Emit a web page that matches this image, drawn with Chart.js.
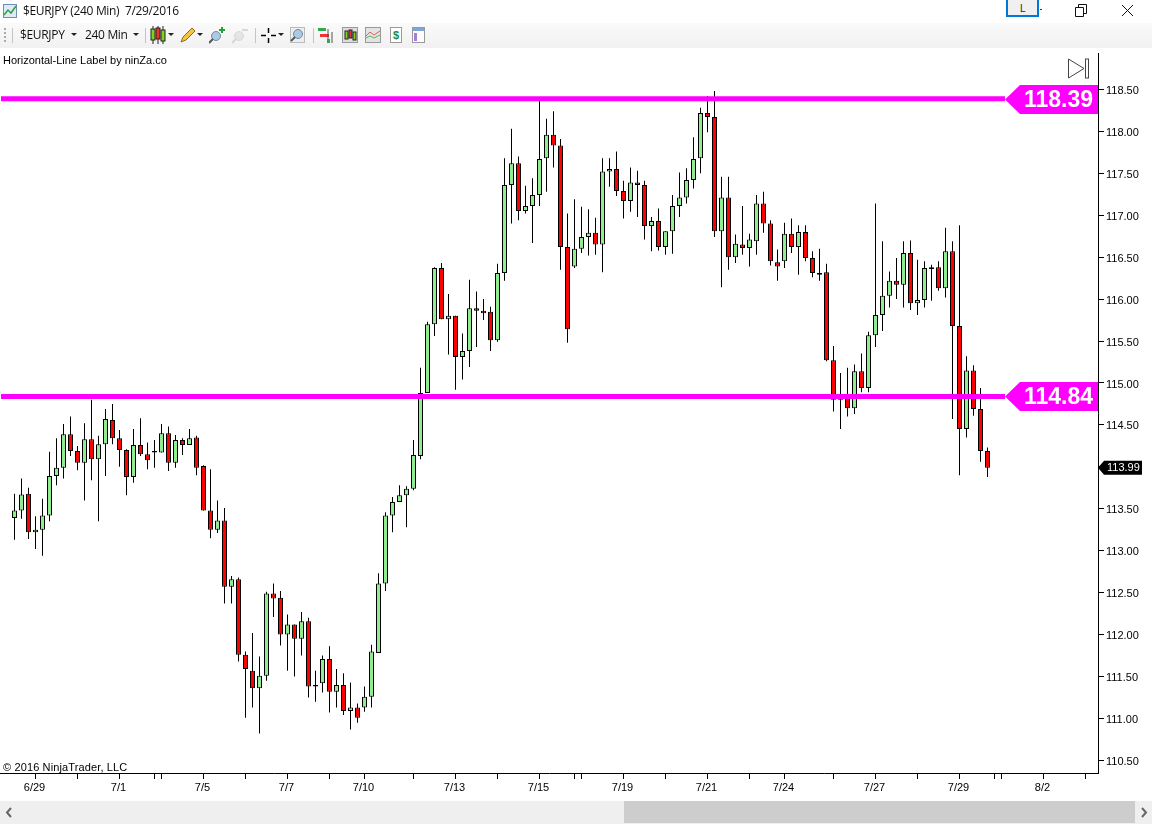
<!DOCTYPE html>
<html>
<head>
<meta charset="utf-8">
<title>$EURJPY (240 Min) 7/29/2016</title>
<script src="https://cdn.jsdelivr.net/npm/chart.js@4/dist/chart.umd.js"></script>
<style>
body { margin: 0; background: #fff; width: 1152px; height: 824px; overflow: hidden; position: relative; font-family: "Open Sans", sans-serif; }
canvas { position: absolute; left: 0; top: 0; }
.abs { position: absolute; white-space: nowrap; }
#toolbar { left: 0; top: 23px; width: 1152px; height: 25px; background: linear-gradient(#fafafa, #f1f1f1); }
.ui { font-size: 12px; line-height: 16px; color: #111; letter-spacing: -0.33px; }
.note { font-family: "Liberation Sans", Arial, sans-serif; font-size: 11px; line-height: 13px; color: #000; }
.sep { top: 28px; width: 1px; height: 15px; background: #c4c4c4; }
#scroll { left: 0; top: 801px; width: 1152px; height: 23px; background: #efefef; }
#thumb { left: 624px; top: 801px; width: 511px; height: 22px; background: #cdcdcd; }
</style>
</head>
<body>
<canvas id="myChart" width="1152" height="824" style="width:1152px;height:824px"></canvas>

<div class="abs" id="toolbar"></div>
<svg class="abs" style="left:3px;top:4px" width="14" height="14"><rect x="0.5" y="0.5" width="13" height="13" fill="#dfeaf7" stroke="#6f8fb5"/><path d="M1 11 L5 6 L8 9 L13 2" fill="none" stroke="#2f9e44" stroke-width="1.5"/></svg>
<div class="abs ui" style="left:23px;top:3px">$EURJPY (240 Min)&nbsp; 7/29/2016</div>

<div class="abs" style="left:1006px;top:-2px;width:29px;height:15px;border:2px solid #0078d7;background:#f0f0f0;text-align:center;font-size:11px;line-height:15px;color:#222">L</div>
<div class="abs" style="left:1040px;top:9px;width:2px;height:1px;background:#333"></div>
<svg class="abs" style="left:1075px;top:4px" width="14" height="14"><path d="M0.5 3.5 H8.5 V12.5 H0.5 Z M3.5 3.5 V0.5 H11.5 V9.5 H8.5" fill="none" stroke="#111"/></svg>
<svg class="abs" style="left:1121px;top:4px" width="13" height="13"><path d="M1 1 L12 12 M12 1 L1 12" stroke="#111" stroke-width="1"/></svg>

<div class="abs" style="left:4px;top:28px;width:2px;height:15px;background:repeating-linear-gradient(#aaa 0 2px, transparent 2px 4px)"></div>
<div class="abs sep" style="left:12px"></div>
<div class="abs ui" style="left:20px;top:27px">$EURJPY</div>
<svg class="abs" style="left:71px;top:33px" width="6" height="4"><path d="M0 0 H6 L3 3 Z" fill="#222"/></svg>
<div class="abs ui" style="left:85px;top:27px">240 Min</div>
<svg class="abs" style="left:133px;top:33px" width="6" height="4"><path d="M0 0 H6 L3 3 Z" fill="#222"/></svg>
<div class="abs sep" style="left:145px"></div>
<svg class="abs" style="left:150px;top:26px" width="16" height="18"><path d="M3 0 V18 M8 0 V18 M13 0 V18" stroke="#222"/><rect x="1" y="3" width="4" height="11" fill="#7ed321" stroke="#222"/><rect x="6" y="2" width="4" height="11" fill="#e33" stroke="#222"/><rect x="11" y="4" width="4" height="11" fill="#7ed321" stroke="#222"/></svg>
<svg class="abs" style="left:168px;top:33px" width="6" height="4"><path d="M0 0 H6 L3 3 Z" fill="#222"/></svg>
<svg class="abs" style="left:180px;top:27px" width="16" height="16"><path d="M1 15 L3 10 L12 1 L15 4 L6 13 Z" fill="#f5c542" stroke="#8a6d1a"/></svg>
<svg class="abs" style="left:197px;top:33px" width="6" height="4"><path d="M0 0 H6 L3 3 Z" fill="#222"/></svg>
<svg class="abs" style="left:209px;top:27px" width="17" height="17"><circle cx="7" cy="9" r="4.5" fill="#a8cbe8" stroke="#7a8a99"/><path d="M4 12 L0 16" stroke="#555" stroke-width="2"/><path d="M13 0 V6 M10 3 H16" stroke="#22a33a" stroke-width="2"/></svg>
<svg class="abs" style="left:232px;top:27px" width="17" height="17" opacity="0.4"><circle cx="7" cy="9" r="4.5" fill="#ccc" stroke="#aaa"/><path d="M4 12 L0 16" stroke="#aaa" stroke-width="2"/><path d="M10 3 H16" stroke="#aaa" stroke-width="2"/></svg>
<div class="abs sep" style="left:255px"></div>
<svg class="abs" style="left:261px;top:28px" width="15" height="15"><path d="M7.5 0 V5 M7.5 10 V15 M0 7.5 H5 M10 7.5 H15" stroke="#000" stroke-width="1.5"/></svg>
<svg class="abs" style="left:278px;top:33px" width="6" height="4"><path d="M0 0 H6 L3 3 Z" fill="#222"/></svg>
<svg class="abs" style="left:290px;top:27px" width="15" height="16"><rect x="0.5" y="0.5" width="14" height="15" fill="#eee" stroke="#bbb"/><circle cx="8" cy="7" r="4.5" fill="#a8cbe8" stroke="#7a8a99"/><path d="M5 10 L1 14" stroke="#555" stroke-width="2"/></svg>
<div class="abs sep" style="left:313px"></div>
<svg class="abs" style="left:318px;top:27px" width="16" height="16"><rect x="0" y="1" width="8" height="3" fill="#2fa84f"/><rect x="2" y="7" width="9" height="3" fill="#e33"/><path d="M10 2 V16 M14 5 V16" stroke="#555"/><rect x="9" y="12" width="3" height="4" fill="#2fa84f"/></svg>
<svg class="abs" style="left:342px;top:27px" width="16" height="16"><rect x="0.5" y="0.5" width="15" height="15" fill="#ddd" stroke="#999"/><rect x="3" y="4" width="3" height="8" fill="#7ed321" stroke="#222"/><rect x="7" y="3" width="3" height="8" fill="#e33" stroke="#222"/><rect x="11" y="5" width="3" height="8" fill="#7ed321" stroke="#222"/></svg>
<svg class="abs" style="left:365px;top:27px" width="16" height="16"><rect x="0.5" y="0.5" width="15" height="15" fill="#e3e3e3" stroke="#999"/><path d="M1 9 L5 5 L9 8 L15 4" fill="none" stroke="#e55"/><path d="M1 11 L5 9 L9 11 L15 8" fill="none" stroke="#5b5"/></svg>
<svg class="abs" style="left:390px;top:27px" width="12" height="16"><rect x="0.5" y="0.5" width="11" height="15" fill="#fff" stroke="#999"/><text x="6" y="12" font-size="11" font-weight="bold" text-anchor="middle" fill="#1b8a3a" font-family="Liberation Sans">$</text></svg>
<svg class="abs" style="left:412px;top:27px" width="13" height="16"><rect x="0.5" y="0.5" width="12" height="15" fill="#fff" stroke="#999"/><rect x="1" y="1" width="11" height="3" fill="#7aa7d8"/><rect x="2" y="6" width="3" height="8" fill="#a77be0"/></svg>

<div class="abs note" style="left:3px;top:54px">Horizontal-Line Label by ninZa.co</div>
<div class="abs note" style="left:3px;top:761px;letter-spacing:0.13px">© 2016 NinjaTrader, LLC</div>

<svg class="abs" style="left:1067px;top:58px" width="23" height="22"><path d="M1.5 1 L17 10.5 L1.5 20 Z" fill="none" stroke="#444"/><rect x="18.5" y="1" width="3" height="19" fill="none" stroke="#444"/></svg>

<div class="abs" id="scroll"></div>
<div class="abs" id="thumb"></div>
<svg class="abs" style="left:5px;top:807px" width="8" height="11"><path d="M6 1 L2 5.5 L6 10" fill="none" stroke="#666" stroke-width="2"/></svg>
<svg class="abs" style="left:1140px;top:807px" width="8" height="11"><path d="M2 1 L6 5.5 L2 10" fill="none" stroke="#666" stroke-width="2"/></svg>

<script>
const opens = [
    113.39,113.48,113.68,113.22,113.25,113.42,113.89,113.99,114.39,114.19,
    114.05,114.33,114.09,114.27,114.56,114.34,114.20,113.88,114.26,114.15,
    114.19,114.17,114.40,114.05,114.32,114.26,114.35,114.01,113.48,113.25,
    113.36,112.57,112.66,111.76,111.57,111.36,111.51,112.49,112.44,112.00,
    112.12,111.95,112.16,111.38,111.42,111.71,111.32,111.40,111.09,111.13,
    111.13,111.26,111.78,112.61,113.42,113.58,113.66,113.74,114.13,114.88,
    115.70,116.37,115.76,115.80,115.31,115.38,115.89,115.86,115.85,115.51,
    116.31,117.36,117.62,117.05,117.11,117.24,117.68,117.96,117.83,116.62,
    116.39,116.60,116.74,116.79,116.65,117.52,117.55,117.29,117.17,117.39,
    117.36,116.87,116.93,116.62,116.81,117.11,117.21,117.42,117.68,118.22,
    118.17,116.81,117.21,116.50,116.65,116.61,116.69,117.14,116.90,116.44,
    116.45,116.78,116.62,116.80,116.49,116.31,116.32,115.27,114.80,114.85,
    114.70,115.14,114.94,115.57,115.81,116.04,116.22,116.17,116.55,115.95,
    115.99,116.38,116.38,116.13,116.57,115.68,114.45,115.15,114.69,114.19
];
const closes = [
    113.48,113.67,113.22,113.25,113.42,113.89,113.99,114.39,114.19,114.05,
    114.33,114.09,114.27,114.57,114.34,114.20,113.88,114.26,114.15,114.08,
    114.17,114.40,114.05,114.32,114.26,114.34,113.99,113.48,113.25,113.36,
    112.57,112.66,111.76,111.59,111.36,111.51,112.49,112.43,112.00,112.12,
    111.95,112.16,111.38,111.40,111.71,111.32,111.40,111.09,111.13,111.01,
    111.26,111.80,112.61,113.42,113.58,113.66,113.74,114.14,114.88,115.70,
    116.37,115.76,115.80,115.31,115.38,115.89,115.86,115.83,115.51,116.31,
    117.36,117.62,117.05,117.11,117.24,117.67,117.96,117.83,116.62,115.64,
    116.60,116.74,116.79,116.65,117.52,117.55,117.29,117.17,117.39,117.36,
    116.87,116.93,116.62,116.81,117.11,117.21,117.42,117.67,118.22,118.17,
    116.81,117.21,116.50,116.66,116.61,116.71,117.14,116.90,116.45,116.39,
    116.78,116.62,116.80,116.49,116.31,116.29,115.27,114.80,114.84,114.70,
    115.14,114.94,115.57,115.81,116.04,116.22,116.17,116.55,115.95,115.99,
    116.37,116.36,116.13,116.57,115.68,114.45,115.15,114.69,114.19,113.99
];
const highs = [
    113.68,113.86,113.75,113.41,113.62,114.18,114.34,114.51,114.60,114.25,
    114.52,114.80,114.37,114.69,114.75,114.44,114.21,114.45,114.58,114.29,
    114.32,114.51,114.48,114.38,114.34,114.45,114.37,114.02,113.97,113.60,
    113.51,112.70,112.68,111.80,112.02,111.74,112.51,112.61,112.52,112.24,
    112.12,112.27,112.20,111.57,111.75,111.86,111.59,111.54,111.43,111.18,
    111.38,111.88,112.73,113.46,113.64,113.78,113.77,114.32,115.18,115.73,
    116.38,116.43,116.06,115.80,115.59,116.23,116.09,116.00,115.91,116.42,
    117.68,118.03,117.70,117.35,117.44,118.40,118.15,118.24,117.91,117.02,
    117.19,117.10,117.07,116.97,117.68,117.68,117.76,117.41,117.57,117.53,
    117.41,116.98,117.08,116.81,117.24,117.51,117.56,117.93,118.28,118.42,
    118.48,117.46,117.46,116.77,117.11,116.78,117.24,117.28,116.94,116.59,
    116.91,116.96,116.88,116.88,116.57,116.60,116.42,115.44,115.12,115.18,
    115.22,115.35,115.61,117.14,116.69,116.33,116.49,116.69,116.70,116.47,
    116.45,116.41,116.45,116.85,116.69,116.88,115.32,115.21,114.94,114.23
];
const lows = [
    113.13,113.38,113.14,113.02,112.94,113.35,113.78,113.86,114.13,113.96,
    113.60,113.84,113.35,113.89,114.27,114.00,113.66,113.81,114.13,113.97,
    113.99,114.17,113.95,113.99,114.14,114.26,113.90,113.48,113.15,113.21,
    112.37,112.37,111.68,111.01,111.13,110.82,111.45,112.21,111.87,111.57,
    111.50,111.75,111.25,111.20,111.31,111.07,111.13,111.04,110.87,110.95,
    111.08,111.13,111.78,112.52,113.22,113.58,113.28,113.72,114.09,114.88,
    115.56,115.76,115.34,114.92,115.04,115.19,115.43,115.75,115.38,115.49,
    116.22,116.90,116.94,117.02,116.67,117.11,117.28,117.57,116.35,115.48,
    116.37,116.55,116.52,116.53,116.32,117.34,117.23,116.96,117.04,116.98,
    116.71,116.57,116.58,116.53,116.54,116.98,117.14,117.32,117.50,117.99,
    116.74,116.14,116.35,116.43,116.53,116.39,116.53,116.79,116.40,116.22,
    116.37,116.55,116.29,116.45,116.26,116.22,115.26,114.66,114.45,114.60,
    114.63,114.89,114.89,115.43,115.62,115.90,116.00,115.90,115.87,115.81,
    115.90,115.98,116.10,116.02,114.57,113.90,114.35,114.61,114.06,113.88
];

// bar numbers that carry a tick on the time axis, and the ones with a date
const timeTicks = [4,10,16,21,22,28,34,40,46,51,58,64,70,76,81,82,88,94,100,106,111,118,124,130,136,141,142,148,154];
const dateTicks = [4,16,28,40,51,64,76,88,100,111,124,136,148];
const dateLabels = ['6/29','7/1','7/5','7/7','7/10','7/13','7/15','7/19','7/21','7/24','7/27','7/29','8/2'];
const priceTicks = [110.5,111,111.5,112,112.5,113,113.5,114,114.5,115,115.5,116,116.5,117,117.5,118,118.5];

const levels = [118.39, 114.84];
const lastPrice = 113.99;

const MAGENTA = '#ff00ff';
const UP = '#90ee90';
const DOWN = '#ff0000';
const FONT = '"Liberation Sans", Arial, sans-serif';

const bars = opens.map((o, i) => i + 1);
const wickData = bars.map((b, i) => ({ x: b, y: [lows[i], highs[i]] }));
const bodyData = bars.map((b, i) => ({ x: b, y: [opens[i], closes[i]] }));
const bodyColors = bars.map((b, i) => (closes[i] >= opens[i] ? UP : DOWN));

function levelLine(value) {
    return {
        type: 'line',
        data: [{ x: -0.93, y: value }, { x: 142.5, y: value }],
        borderColor: MAGENTA,
        borderWidth: 5,
        pointRadius: 0,
        order: 1
    };
}

// the magenta price flags and the black last price tag
const priceTags = {
    id: 'priceTags',
    afterDraw(chart) {
        const ctx = chart.ctx;
        const yScale = chart.scales.y;
        const right = chart.chartArea.right;

        levels.forEach(function (value) {
            const y = Math.round(yScale.getPixelForValue(value)) + 0.5;
            ctx.save();
            ctx.fillStyle = MAGENTA;
            ctx.beginPath();
            ctx.moveTo(right - 93, y);
            ctx.lineTo(right - 78, y - 14.5);
            ctx.lineTo(right, y - 14.5);
            ctx.lineTo(right, y + 14.5);
            ctx.lineTo(right - 78, y + 14.5);
            ctx.closePath();
            ctx.fill();
            ctx.fillStyle = '#fff';
            ctx.font = 'bold 23px ' + FONT;
            ctx.textAlign = 'left';
            ctx.textBaseline = 'middle';
            ctx.fillText(value.toFixed(2), right - 74, y + 1);
            ctx.restore();
        });

        const y = yScale.getPixelForValue(lastPrice);
        ctx.save();
        ctx.fillStyle = '#000';
        ctx.beginPath();
        ctx.moveTo(right, y);
        ctx.lineTo(right + 6, y - 7);
        ctx.lineTo(right + 44, y - 7);
        ctx.lineTo(right + 44, y + 7);
        ctx.lineTo(right + 6, y + 7);
        ctx.closePath();
        ctx.fill();
        ctx.fillStyle = '#fff';
        ctx.font = '11px ' + FONT;
        ctx.textAlign = 'left';
        ctx.textBaseline = 'middle';
        ctx.fillText(lastPrice.toFixed(2), right + 9, y + 0.5);
        ctx.restore();
    }
};

const ctx = document.getElementById('myChart');
const myChart = new Chart(ctx, {
    type: 'bar',
    data: {
        datasets: [
            levelLine(levels[0]),
            levelLine(levels[1]),
            {
                data: bodyData,
                backgroundColor: bodyColors,
                borderColor: '#000',
                borderWidth: 1,
                borderSkipped: false,
                barThickness: 5,
                grouped: false,
                inflateAmount: 0,
                order: 2
            },
            {
                data: wickData,
                backgroundColor: '#000',
                borderWidth: 0,
                barThickness: 1,
                grouped: false,
                inflateAmount: 0,
                order: 3
            }
        ]
    },
    options: {
        responsive: false,
        animation: false,
        devicePixelRatio: 1,
        layout: { padding: { top: 53, left: 0, right: 0, bottom: 0 } },
        plugins: { legend: { display: false }, tooltip: { enabled: false } },
        scales: {
            x: {
                type: 'linear',
                offset: false,
                min: -1.071429,
                max: 155.785714,
                grid: { offset: false, drawOnChartArea: false, tickLength: 6, tickColor: '#000' },
                border: { color: '#000' },
                afterBuildTicks(axis) {
                    axis.ticks = timeTicks.map(v => ({ value: v }));
                },
                afterFit(axis) {
                    axis.height = 51;
                },
                ticks: {
                    autoSkip: false,
                    maxRotation: 0,
                    color: '#000',
                    padding: 2,
                    labelOffset: -1,
                    font: { family: FONT, size: 11 },
                    callback(value) {
                        const at = dateTicks.indexOf(value);
                        return at >= 0 ? dateLabels[at] : '';
                    }
                }
            },
            y: {
                position: 'right',
                min: 110.35,
                max: 118.934,
                grid: { drawOnChartArea: false, tickLength: 6, tickColor: '#000' },
                border: { color: '#000' },
                afterBuildTicks(axis) {
                    axis.ticks = priceTicks.map(v => ({ value: v }));
                },
                afterFit(axis) {
                    axis.width = 54;
                },
                ticks: {
                    autoSkip: false,
                    color: '#000',
                    padding: 2,
                    labelOffset: 1.5,
                    font: { family: FONT, size: 11 },
                    callback(value) {
                        return value.toFixed(2);
                    }
                }
            }
        }
    },
    plugins: [priceTags]
});
</script>
</body>
</html>
